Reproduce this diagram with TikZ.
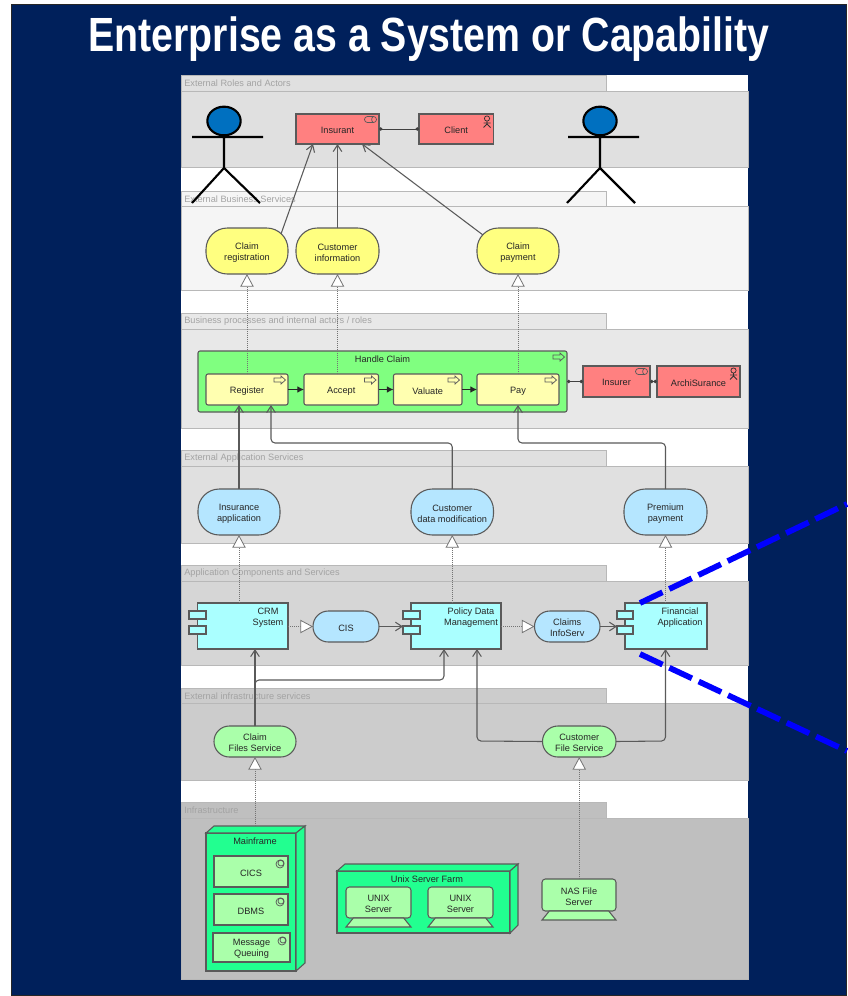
\documentclass[tikz,border=0pt]{standalone}
\usepackage{fontspec}
\usepackage{graphicx}
\setmainfont{Liberation Sans}
\usetikzlibrary{arrows.meta,shapes.geometric}
\definecolor{navy}{HTML}{00205B}
\definecolor{edge}{HTML}{5A5A5A}
\definecolor{redbox}{HTML}{FF8080}
\definecolor{yelsvc}{HTML}{FFFF80}
\definecolor{yelproc}{HTML}{FFFFB0}
\definecolor{grnproc}{HTML}{80FF80}
\definecolor{blusvc}{HTML}{B5E6FF}
\definecolor{comp}{HTML}{AAFFFF}
\definecolor{grnsvc}{HTML}{AAFFAA}
\definecolor{devgrn}{HTML}{22FF90}
\definecolor{headblue}{HTML}{0070C0}
\tikzset{
  lbl/.style={font=\fontsize{6.9}{8.25}\selectfont,text=black!85,align=center,inner sep=0pt,outer sep=0pt},
  layerbox/.style={draw=black!28,line width=.75pt,inner sep=0pt,outer sep=0pt},
  layertext/.style={font=\fontsize{6.9}{8.25}\selectfont,text=black!36,anchor=west,inner sep=0pt},
  box/.style={draw=edge,line width=.8pt,inner sep=0pt,outer sep=0pt},
  rolebox/.style={box,fill=redbox},
  svcbig/.style={box,rounded corners=16pt},
  svcsmall/.style={box,rounded corners=11.5pt},
  procbox/.style={box,fill=yelproc,rounded corners=1.5pt},
  compbox/.style={box,fill=comp},
  port/.style={box,fill=comp},
  sysbox/.style={box,fill=grnsvc},
  devfront/.style={box,fill=devgrn},
  srv/.style={box,fill=grnsvc,rounded corners=2.5pt},
  stick/.style={draw=black,line width=1.6pt},
  headshape/.style={ellipse,draw=black,line width=1.6pt,fill=headblue,minimum width=25pt,minimum height=21.5pt,inner sep=0pt,outer sep=0pt},
  assoc/.style={draw=edge,line width=.8pt,-{Straight Barb[length=5pt,width=6.5pt]}},
  realize/.style={draw=black!55,line width=.6pt,dash pattern=on .7pt off .8pt,-{Triangle[open,fill=white,length=9.5pt,width=10pt]}},
  compose/.style={draw=black!75,line width=.75pt,{Circle[length=2.6pt]}-{Circle[length=2.6pt]}},
  trigger/.style={draw=black!85,line width=.75pt,-{Latex[length=5pt,width=5pt]}},
  icon/.style={draw=edge,line width=.55pt},
  bluedash/.style={draw=blue,line width=4.3pt,dash pattern=on 18.7pt off 5.6pt},
}
\newcommand\nd[7]{\node[#1,minimum width={(#5-#3)*0.75pt},minimum height={(#6-#4)*0.75pt},label={[lbl,yshift=-1pt]center:{#7}}] (#2) at ({(#3+#5)/2},{(#4+#6)/2}) {};}
\newcommand\layerrow[6]{%
  \nd{layerbox,fill=#1}{#6tab}{181}{#2}{606}{#3}{}
  \nd{layerbox,fill=#1}{#6body}{181}{#3}{748}{#4}{}
  \node[layertext] (#6text) at (184,{(#2+#3)/2+.5}) {#5};}
\newcommand\roleicon[1]{\begin{scope}[shift={(#1.north east)}]
  \draw[icon,rounded corners=2.2pt] (-14.5,2.5) rectangle (-2.5,8.5);
  \draw[icon] (-5.5,2.5) .. controls (-8,3.5) and (-8,7.5) .. (-5.5,8.5);
\end{scope}}
\newcommand\actoricon[1]{\begin{scope}[shift={(#1.north east)}]
  \draw[black!80,line width=.55pt] (-6.5,4.5) circle[x radius=2.6,y radius=2.6];
  \draw[black!80,line width=.7pt] (-6.5,7) -- (-6.5,10) (-10,9) -- (-3,9) (-10,13.5) -- (-6.5,10) -- (-3,13.5);
\end{scope}}
\newcommand\procicon[1]{\begin{scope}[shift={(#1.north east)}]
  \draw[icon] (-14,4) -- (-7,4) -- (-7,2) -- (-2.5,6) -- (-7,10) -- (-7,8) -- (-14,8) -- cycle;
\end{scope}}
\newcommand\sysicon[1]{\begin{scope}[shift={(#1.north east)}]
  \draw[icon] (-8,8) circle[radius=4];
  \draw[icon] (-7,7) circle[radius=3];
\end{scope}}
\newcommand\foot[1]{\path[draw=edge,line width=.8pt,fill=grnsvc] ([xshift=5.5pt]#1.south west) -- ([yshift=-6.75pt]#1.south west) -- ([yshift=-6.75pt]#1.south east) -- ([xshift=-5.5pt]#1.south east) -- cycle;}
\begin{document}
\begin{tikzpicture}[x=0.75pt,y=-0.75pt]
\useasboundingbox (0,0) rectangle (847,996);
\fill[white] (0,0) rectangle (847,996);
\draw[fill=navy,draw=black!85,line width=.9pt] (11.5,4.5) rectangle (846.5,995.5);
\node[font=\bfseries\fontsize{36}{36}\selectfont,text=white,inner sep=0pt] (title) at (429,39.5) {\scalebox{.818}[1]{Enterprise as a System or Capability}};
\fill[white] (181,75) rectangle (748,979);
% layers
\layerrow{black!12}{75}{91}{167}{External Roles and Actors}{la}
\layerrow{black!4}{191}{206}{290}{External Business Services}{lb}
\layerrow{black!9}{313}{329}{428}{Business processes and internal actors / roles}{lc}
\layerrow{black!12}{450}{466}{543}{External Application Services}{ld}
\layerrow{black!16}{565}{581}{665}{Application Components and Services}{le}
\layerrow{black!20}{688}{703}{780}{External infrastructure services}{lf}
\layerrow{black!25}{802}{818}{979}{Infrastructure}{lg}
% stick figures
\node[headshape] (heada) at (224,121) {};
\draw[stick] (heada.south) -- (224,168) (192,137) -- (263,137) (192,203) -- (224,168) -- (260,203);
\node[headshape] (headb) at (600,121) {};
\draw[stick] (headb.south) -- (600,168) (568,137) -- (639,137) (567,203) -- (600,168) -- (635,203);
% roles
\nd{rolebox}{insurant}{296}{114}{379}{144}{Insurant}
\nd{rolebox}{client}{419}{114}{493.5}{144}{Client}
\roleicon{insurant}\actoricon{client}
% business services
\nd{svcbig,fill=yelsvc}{sclaimreg}{206}{228}{288}{274}{Claim\\registration}
\nd{svcbig,fill=yelsvc}{scustinfo}{296}{228}{379}{274}{Customer\\information}
\nd{svcbig,fill=yelsvc}{sclaimpay}{477}{228}{559}{274}{Claim\\payment}
% processes
\nd{box,fill=grnproc,rounded corners=1.5pt}{handle}{198}{351}{567}{412}{}
\node[lbl] (handlet) at (382.5,359) {Handle Claim};
\procicon{handle}
\nd{procbox}{register}{206}{374}{288}{405}{Register}
\nd{procbox}{accept}{304}{374}{378.5}{405}{Accept}
\nd{procbox}{valuate}{393.5}{374}{462}{405}{Valuate}
\nd{procbox}{pay}{477}{374}{559}{405}{Pay}
\procicon{register}\procicon{accept}\procicon{valuate}\procicon{pay}
\nd{rolebox}{insurer}{583}{366}{650}{397}{Insurer}
\nd{rolebox}{archi}{657}{366}{740}{397}{ArchiSurance}
\roleicon{insurer}\actoricon{archi}
% application services
\nd{svcbig,fill=blusvc}{sinsapp}{198}{489}{280}{535}{Insurance\\application}
\nd{svcbig,fill=blusvc}{scustmod}{411}{489}{493.5}{535}{Customer\\data modification}
\nd{svcbig,fill=blusvc}{sprem}{624}{489}{707}{535}{Premium\\payment}
% components
\nd{compbox}{crm}{197.5}{603}{288}{649}{}
\nd{port}{crma}{189}{611}{206}{619}{}
\nd{port}{crmb}{189}{626}{206}{634}{}
\node[lbl] (crmt) at (268,618) {CRM\\System};
\nd{compbox}{policy}{411}{603}{501}{649}{}
\nd{port}{pola}{403}{611}{420}{619}{}
\nd{port}{polb}{403}{626}{420}{634}{}
\node[lbl] (polt) at (471,618) {Policy Data\\Management};
\nd{compbox}{fin}{625}{603}{707}{649}{}
\nd{port}{fina}{617}{611}{633}{619}{}
\nd{port}{finb}{617}{626}{633}{634}{}
\node[lbl] (fint) at (680,618) {Financial\\Application};
\nd{svcsmall,fill=blusvc}{scis}{313}{611}{379}{642}{CIS}
\nd{svcsmall,fill=blusvc}{sclaims}{534.5}{611}{600}{642}{Claims\\InfoServ}
% infrastructure services
\nd{svcsmall,fill=grnsvc}{sfiles}{214}{726}{296}{757}{Claim\\Files Service}
\nd{svcsmall,fill=grnsvc}{scfile}{542.5}{726}{616}{757}{Customer\\File Service}
% devices
\nd{devfront}{mainf}{206}{833}{296}{971}{}
\filldraw[fill=devgrn,draw=edge,line width=.8pt] (mainf.north west) -- (214,826) -- (305,826) -- (mainf.north east) -- cycle;
\filldraw[fill=devgrn,draw=edge,line width=.8pt] (mainf.north east) -- (305,826) -- (305,963) -- (mainf.south east) -- cycle;
\node[lbl] (mainft) at (255,841) {Mainframe};
\nd{sysbox}{cics}{214}{856}{288}{887}{CICS}
\nd{sysbox}{dbms}{214}{894}{288}{925}{DBMS}
\nd{sysbox}{mq}{213}{933}{290}{962}{Message\\Queuing}
\sysicon{cics}\sysicon{dbms}\sysicon{mq}
\nd{devfront}{farm}{337}{871}{510}{933}{}
\filldraw[fill=devgrn,draw=edge,line width=.8pt] (farm.north west) -- (345,864) -- (518,864) -- (farm.north east) -- cycle;
\filldraw[fill=devgrn,draw=edge,line width=.8pt] (farm.north east) -- (518,864) -- (518,925) -- (farm.south east) -- cycle;
\node[lbl] (farmt) at (427,879) {Unix Server Farm};
\nd{srv}{unixa}{346}{887}{411}{918}{UNIX\\Server}
\nd{srv}{unixb}{428}{887}{493}{918}{UNIX\\Server}
\nd{srv}{nas}{542}{879}{616}{911}{NAS File\\Server}
\foot{unixa}\foot{unixb}\foot{nas}
% connectors
\draw[assoc] (sclaimreg.north east) ++(-7,6) coordinate (ca) -- (313,144) coordinate (cb);
\draw[assoc] (scustinfo.north) -- (scustinfo.north |- insurant.south);
\draw[assoc] (sclaimpay.north west) ++(6,7) coordinate (cc) -- (362,144) coordinate (cd);
\draw[compose] (insurant.east) -- (client.west);
\draw[compose] (insurer.west -| handle.east) -- (insurer.west);
\draw[compose] (insurer.east) -- (archi.west);
\draw[trigger] (register) -- (accept);
\draw[trigger] (accept) -- (valuate);
\draw[trigger] (valuate) -- (pay);
\draw[realize] (register.north) -- (sclaimreg.south);
\draw[realize] (scustinfo.south |- accept.north) -- (scustinfo.south);
\draw[realize] (pay.north) -- (sclaimpay.south);
\draw[assoc] (sinsapp.north) -- (sinsapp.north |- register.south);
\coordinate (benda) at (271,443);
\coordinate (bendb) at (518,443);
\draw[assoc,rounded corners=3pt] (scustmod.north) |- (benda) -- (benda |- register.south);
\draw[assoc,rounded corners=3pt] (sprem.north) |- (bendb) -- (bendb |- pay.south);
\draw[realize] (sinsapp.south |- crm.north) -- (sinsapp.south);
\draw[realize] (scustmod.south |- policy.north) -- (scustmod.south);
\draw[realize] (sprem.south |- fin.north) -- (sprem.south);
\draw[realize] (crm.east |- scis.west) -- (scis.west);
\draw[realize] (policy.east |- sclaims.west) -- (sclaims.west);
\draw[assoc] (scis.east) -- (scis.east -| polb.west);
\draw[assoc] (sclaims.east) -- (sclaims.east -| finb.west);
\draw[assoc] (sfiles.north) -- (sfiles.north |- crm.south);
\coordinate (bendc) at (444,680);
\coordinate (bendd) at (477,741);
\coordinate (bende) at (665.5,741);
\draw[assoc,rounded corners=3pt] (sfiles.north) |- (bendc) -- (bendc |- policy.south);
\draw[assoc,rounded corners=3pt] (scfile.west) -- (bendd) -- (bendd |- policy.south);
\draw[assoc,rounded corners=3pt] (scfile.east) -- (bende) -- (bende |- fin.south);
\draw[realize] (sfiles.south |- mainf.north) ++(0,-7) -- (sfiles.south);
\draw[realize] (scfile.south |- nas.north) -- (scfile.south);
% blue dashed lines
\coordinate (za) at (847,504);
\coordinate (zb) at (847,751);
\coordinate (fa) at (640,603);
\coordinate (fb) at (640,654);
\draw[bluedash] (fa) -- (za);
\draw[bluedash] (fb) -- (zb);
\end{tikzpicture}
\end{document}
